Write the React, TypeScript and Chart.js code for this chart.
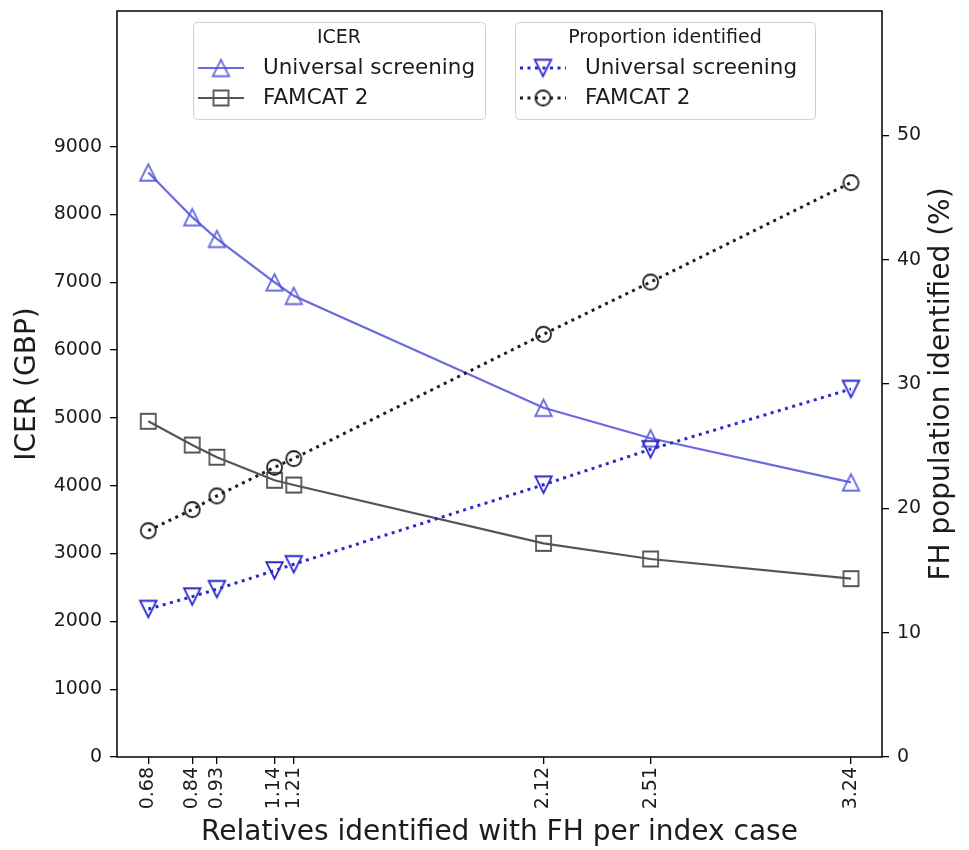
import React, { useEffect, useRef } from "react";
import { Chart, registerables } from "chart.js";

Chart.register(...registerables);

// ---- data ----
const xValues = [0.68, 0.84, 0.93, 1.14, 1.21, 2.12, 2.51, 3.24];
const xTickLabels = ["0.68", "0.84", "0.93", "1.14", "1.21", "2.12", "2.51", "3.24"];
const icerUniversal = [8620, 7960, 7640, 7000, 6800, 5150, 4700, 4050];
const icerFamcat = [4950, 4600, 4420, 4080, 4010, 3150, 2920, 2630];
const propUniversal = [11.9, 12.9, 13.5, 15.0, 15.5, 21.9, 24.75, 29.6];
const propFamcat = [18.2, 19.9, 21.0, 23.3, 24.0, 34.0, 38.2, 46.2];
const icerTicks = [0, 1000, 2000, 3000, 4000, 5000, 6000, 7000, 8000, 9000];
const propTicks = [0, 10, 20, 30, 40, 50];

const xLabel = "Relatives identified with FH per index case";
const yLabel = "ICER (GBP)";
const y2Label = "FH population identified (%)";
const legend1Title = "ICER";
const legend2Title = "Proportion identified";
const seriesUniversal = "Universal screening";
const seriesFamcat = "FAMCAT 2";

const FONT = "'DejaVu Sans', 'Liberation Sans', sans-serif";
const BLUE_SOLID = "rgba(85,85,218,0.88)";
const BLUE_DOT = "#2a2acc";
const GRAY_SOLID = "#555555";
const BLACK_DOT = "#1e1e1e";
const TEXT = "#1c1c1c";

function makeMarker(shape: string, size: number, color: string, lw: number) {
  const pad = Math.ceil(lw) + 1;
  const dim = Math.ceil(size + 2 * pad);
  const c = document.createElement("canvas");
  c.width = dim;
  c.height = dim;
  const ctx = c.getContext("2d")!;
  const cx = dim / 2, cy = dim / 2, h = size / 2;
  ctx.strokeStyle = color;
  ctx.lineWidth = lw;
  ctx.lineJoin = "miter";
  ctx.beginPath();
  if (shape === "up") {
    ctx.moveTo(cx, cy - h);
    ctx.lineTo(cx - h, cy + h);
    ctx.lineTo(cx + h, cy + h);
    ctx.closePath();
  } else if (shape === "down") {
    ctx.moveTo(cx, cy + h);
    ctx.lineTo(cx - h, cy - h);
    ctx.lineTo(cx + h, cy - h);
    ctx.closePath();
  } else if (shape === "square") {
    ctx.rect(cx - h, cy - h, size, size);
  } else {
    ctx.arc(cx, cy, h, 0, Math.PI * 2);
  }
  ctx.stroke();
  return c;
}

type Entry = { label: string; color: string; lw: number; dash: number[]; marker: HTMLCanvasElement };

function drawLegend(ctx: CanvasRenderingContext2D, box: { x: number; y: number; w: number; h: number }, title: string, entries: Entry[]) {
  ctx.save();
  ctx.beginPath();
  (ctx as any).roundRect(box.x + 0.5, box.y + 0.5, box.w, box.h, 4);
  ctx.fillStyle = "rgba(255,255,255,0.85)";
  ctx.fill();
  ctx.strokeStyle = "#d0d0d0";
  ctx.lineWidth = 1;
  ctx.stroke();

  ctx.fillStyle = TEXT;
  ctx.textBaseline = "middle";
  ctx.textAlign = "center";
  ctx.font = `19px ${FONT}`;
  ctx.fillText(title, box.x + box.w / 2, box.y + 16);

  entries.forEach((e, i) => {
    const cy = box.y + 46 + i * 30;
    const lx0 = box.x + 5, lx1 = box.x + 51;
    ctx.beginPath();
    ctx.setLineDash(e.dash);
    ctx.lineCap = "butt";
    ctx.strokeStyle = e.color;
    ctx.lineWidth = e.lw;
    ctx.moveTo(lx0, cy);
    ctx.lineTo(lx1, cy);
    ctx.stroke();
    ctx.setLineDash([]);
    const m = e.marker;
    ctx.drawImage(m, (lx0 + lx1) / 2 - m.width / 2, cy - m.height / 2);
    ctx.fillStyle = TEXT;
    ctx.textAlign = "left";
    ctx.font = `21.5px ${FONT}`;
    ctx.fillText(e.label, box.x + 70, cy);
  });
  ctx.restore();
}

export default function App() {
  const ref = useRef<HTMLCanvasElement | null>(null);

  useEffect(() => {
    if (!ref.current) return;
    const mUp = makeMarker("up", 16.5, BLUE_SOLID, 1.8);
    const mSq = makeMarker("square", 15, GRAY_SOLID, 1.8);
    const mDown = makeMarker("down", 16.5, BLUE_DOT, 1.8);
    const mCirc = makeMarker("circle", 15, BLACK_DOT, 1.8);

    const frame = {
      id: "frame",
      afterDatasetsDraw(chart: any) {
        const { ctx, chartArea: a } = chart;
        ctx.save();
        ctx.strokeStyle = "#000";
        ctx.lineWidth = 1.5;
        ctx.strokeRect(a.left, a.top, a.right - a.left, a.bottom - a.top);
        ctx.restore();
      },
      afterDraw(chart: any) {
        const ctx = chart.ctx;
        const a = chart.chartArea;
        // right axis title, reading bottom-to-top
        ctx.save();
        ctx.translate(942, (a.top + a.bottom) / 2);
        ctx.rotate(-Math.PI / 2);
        ctx.fillStyle = TEXT;
        ctx.font = `28px ${FONT}`;
        ctx.textAlign = "center";
        ctx.textBaseline = "middle";
        ctx.fillText(y2Label, 0, 0);
        ctx.restore();

        drawLegend(ctx, { x: 193, y: 22, w: 292, h: 97 }, legend1Title, [
          { label: seriesUniversal, color: BLUE_SOLID, lw: 2.2, dash: [], marker: mUp },
          { label: seriesFamcat, color: GRAY_SOLID, lw: 2.2, dash: [], marker: mSq },
        ]);
        drawLegend(ctx, { x: 515, y: 22, w: 300, h: 97 }, legend2Title, [
          { label: seriesUniversal, color: BLUE_DOT, lw: 3, dash: [3, 4.5], marker: mDown },
          { label: seriesFamcat, color: BLACK_DOT, lw: 3, dash: [3, 4.5], marker: mCirc },
        ]);
      },
    };

    const pts = (ys: number[]) => xValues.map((x, i) => ({ x, y: ys[i] }));

    const tickFont = { family: FONT, size: 19 };
    const titleFont = { family: FONT, size: 28 };
    const gridOpts = { display: true, drawOnChartArea: false, drawTicks: true, tickLength: 7, tickColor: "#000", lineWidth: 1.3 };

    const chart = new Chart(ref.current, {
      type: "line",
      data: {
        datasets: [
          {
            label: seriesUniversal + " (proportion)",
            data: pts(propUniversal),
            yAxisID: "y2",
            borderColor: BLUE_DOT,
            borderWidth: 3,
            borderDash: [3, 4.5],
            pointStyle: mDown as any,
            pointRadius: 8,
            fill: false,
            tension: 0,
          },
          {
            label: seriesFamcat + " (proportion)",
            data: pts(propFamcat),
            yAxisID: "y2",
            borderColor: BLACK_DOT,
            borderWidth: 3,
            borderDash: [3, 4.5],
            pointStyle: mCirc as any,
            pointRadius: 8,
            fill: false,
            tension: 0,
          },
          {
            label: seriesUniversal,
            data: pts(icerUniversal),
            yAxisID: "y",
            borderColor: BLUE_SOLID,
            borderWidth: 2.2,
            pointStyle: mUp as any,
            pointRadius: 8,
            fill: false,
            tension: 0,
          },
          {
            label: seriesFamcat,
            data: pts(icerFamcat),
            yAxisID: "y",
            borderColor: GRAY_SOLID,
            borderWidth: 2.2,
            pointStyle: mSq as any,
            pointRadius: 8,
            fill: false,
            tension: 0,
          },
        ],
      },
      options: {
        animation: false,
        responsive: false,
        devicePixelRatio: 1,
        layout: { padding: { top: 8, left: 0, right: 0, bottom: 0 } },
        plugins: { legend: { display: false }, tooltip: { enabled: false } },
        scales: {
          x: {
            type: "linear",
            position: "bottom",
            min: 0.566,
            max: 3.353,
            border: { display: false },
            grid: gridOpts,
            afterBuildTicks: (s: any) => {
              s.ticks = xValues.map((v) => ({ value: v }));
            },
            afterFit: (s: any) => {
              s.height = 93;
              s.paddingLeft = 0;
              s.paddingRight = 0;
            },
            ticks: {
              autoSkip: false,
              minRotation: 90,
              maxRotation: 90,
              padding: 3,
              color: TEXT,
              font: tickFont,
              callback: (v: any) => {
                const i = xValues.indexOf(Number(v));
                return i >= 0 ? xTickLabels[i] : "";
              },
            },
            title: { display: true, text: xLabel, color: TEXT, font: titleFont, padding: { top: 0, bottom: 0 } },
          },
          y: {
            type: "linear",
            position: "left",
            min: 0,
            max: 11000,
            border: { display: false },
            grid: gridOpts,
            afterBuildTicks: (s: any) => {
              s.ticks = icerTicks.map((v) => ({ value: v }));
            },
            afterFit: (s: any) => {
              s.width = 117;
              s.paddingTop = 0;
              s.paddingBottom = 0;
            },
            ticks: { padding: 8, color: TEXT, font: tickFont, callback: (v: any) => String(v) },
            title: { display: true, text: yLabel, color: TEXT, font: titleFont, padding: { top: 11, bottom: 0 } },
          },
          y2: {
            type: "linear",
            position: "right",
            min: 0,
            max: 60,
            border: { display: false },
            grid: gridOpts,
            afterBuildTicks: (s: any) => {
              s.ticks = propTicks.map((v) => ({ value: v }));
            },
            afterFit: (s: any) => {
              s.width = 87;
              s.paddingTop = 0;
              s.paddingBottom = 0;
            },
            ticks: { padding: 8, color: TEXT, font: tickFont, callback: (v: any) => String(v) },
            title: { display: false, text: y2Label },
          },
        },
      } as any,
      plugins: [frame],
    });
    return () => chart.destroy();
  }, []);

  return (
    <div style={{ position: "fixed", left: 0, top: 0, width: 969, height: 850, background: "#fff" }}>
      <canvas ref={ref} width={969} height={850} style={{ width: 969, height: 850, display: "block" }} />
    </div>
  );
}
